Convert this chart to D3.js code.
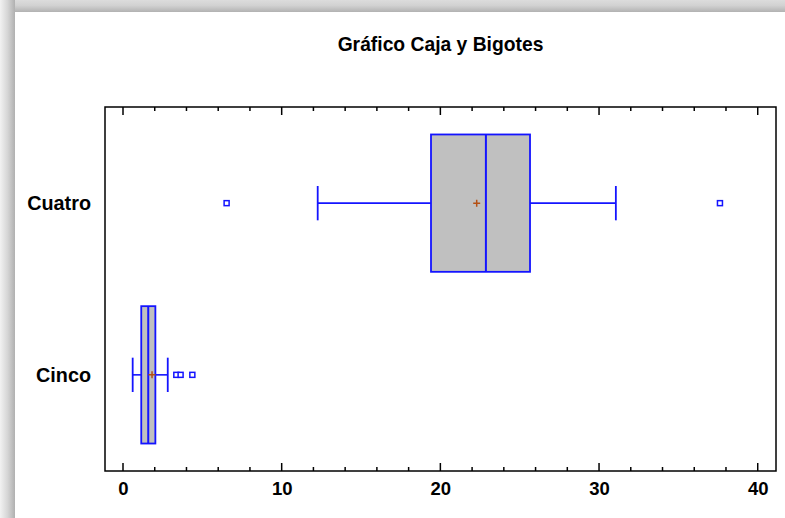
<!DOCTYPE html>
<html>
<head>
<meta charset="utf-8">
<script src="https://cdn.jsdelivr.net/npm/d3@7"></script>
<style>
  html, body { margin: 0; padding: 0; background: #fff; }
  svg { display: block; font-family: Arial, "Liberation Sans", sans-serif; }
</style>
</head>
<body>
<svg id="chart" width="785" height="518"></svg>
<script>
// Groups shown top to bottom
const categories = ["Cuatro", "Cinco"];
// Five-number summaries, mean and outliers per group
const q1Values = [19.41, 1.15];
const medianValues = [22.87, 1.59];
const q3Values = [25.65, 2.04];
const whiskerLow = [12.27, 0.61];
const whiskerHigh = [31.06, 2.82];
const meanValues = [22.29, 1.83];
const outlierValues = [[6.53, 37.62], [3.36, 3.63, 4.37]];
const xTicks = [0, 10, 20, 30, 40];
const xMinorTicks = d3.range(0, 41, 2);
const titleText = "Gráfico Caja y Bigotes";

const W = 785, H = 518;
const svg = d3.select("#chart");
const defs = svg.append("defs");

// Window-style gray shadow along the top and left edges
const gTop = defs.append("linearGradient").attr("id", "shTop").attr("x1", 0).attr("y1", 0).attr("x2", 0).attr("y2", 1);
gTop.append("stop").attr("offset", "0%").attr("stop-color", "#dcdcdc");
gTop.append("stop").attr("offset", "45%").attr("stop-color", "#d2d2d2");
gTop.append("stop").attr("offset", "100%").attr("stop-color", "#b2b2b2");
const gLeft = defs.append("linearGradient").attr("id", "shLeft").attr("x1", 0).attr("y1", 0).attr("x2", 1).attr("y2", 0);
gLeft.append("stop").attr("offset", "0%").attr("stop-color", "#f2f2f2");
gLeft.append("stop").attr("offset", "50%").attr("stop-color", "#d6d6d6");
gLeft.append("stop").attr("offset", "100%").attr("stop-color", "#b0b0b0");

svg.append("rect").attr("x", 0).attr("y", 0).attr("width", W).attr("height", H).attr("fill", "#fff");
svg.append("rect").attr("x", 0).attr("y", 0).attr("width", W).attr("height", 12).attr("fill", "url(#shTop)");
svg.append("rect").attr("x", 0).attr("y", 0).attr("width", 15).attr("height", H).attr("fill", "url(#shLeft)");

const plot = { left: 105, top: 107, right: 776, bottom: 471 };

// 0 sits at x=123 and 40 at x=757.7
const pxPerUnit = 15.868;
const x = d3.scaleLinear()
  .domain([(plot.left - 123) / pxPerUnit, (plot.right - 123) / pxPerUnit])
  .range([plot.left, plot.right]);

const y = d3.scaleBand().domain(categories).range([plot.top, plot.bottom])
  .paddingInner(0.2).paddingOuter(0.16);

// Title
svg.append("text")
  .attr("x", (plot.left + plot.right) / 2)
  .attr("y", 51)
  .attr("text-anchor", "middle")
  .attr("font-size", 19.3)
  .attr("font-weight", "bold")
  .attr("fill", "#000")
  .text(titleText);

// Bottom axis labels
const axisBottom = d3.axisBottom(x).tickValues(xTicks).tickSize(0).tickPadding(0).tickFormat(d3.format("d"));
const gx = svg.append("g").attr("transform", `translate(0,${plot.bottom})`).call(axisBottom);
gx.select(".domain").remove();
gx.selectAll("text").attr("y", 24).attr("dy", 0).attr("font-size", 18.5).attr("font-weight", "bold").attr("fill", "#000").attr("font-family", "Arial, 'Liberation Sans', sans-serif");

// Major and minor ticks pointing inward on bottom and top edges
const tickG = svg.append("g").attr("stroke", "#000").attr("stroke-width", 1.5);
xMinorTicks.forEach(v => {
  const len = v % 10 === 0 ? 8 : 4;
  tickG.append("line").attr("x1", x(v)).attr("x2", x(v)).attr("y1", plot.bottom).attr("y2", plot.bottom - len);
  tickG.append("line").attr("x1", x(v)).attr("x2", x(v)).attr("y1", plot.top).attr("y2", plot.top + len);
});

// Category labels
const axisLeft = d3.axisLeft(y).tickSize(0).tickPadding(14);
const gy = svg.append("g").attr("transform", `translate(${plot.left},0)`).call(axisLeft);
gy.select(".domain").remove();
gy.selectAll("text").attr("font-size", 19.8).attr("font-weight", "bold").attr("fill", "#000").attr("dy", "0.36em").attr("font-family", "Arial, 'Liberation Sans', sans-serif");

// Plot frame
svg.append("rect")
  .attr("x", plot.left).attr("y", plot.top)
  .attr("width", plot.right - plot.left).attr("height", plot.bottom - plot.top)
  .attr("fill", "none").attr("stroke", "#000").attr("stroke-width", 1.5);

const blue = "#1414ff";
const boxes = svg.append("g");
categories.forEach((c, i) => {
  const y0 = y(c), bh = y.bandwidth(), yc = y0 + bh / 2;
  const capH = bh * 0.25;
  const g = boxes.append("g");
  // whiskers
  g.append("line").attr("x1", x(whiskerLow[i])).attr("x2", x(q1Values[i])).attr("y1", yc).attr("y2", yc).attr("stroke", blue).attr("stroke-width", 1.6);
  g.append("line").attr("x1", x(q3Values[i])).attr("x2", x(whiskerHigh[i])).attr("y1", yc).attr("y2", yc).attr("stroke", blue).attr("stroke-width", 1.6);
  [whiskerLow[i], whiskerHigh[i]].forEach(v => {
    g.append("line").attr("x1", x(v)).attr("x2", x(v)).attr("y1", yc - capH / 2).attr("y2", yc + capH / 2).attr("stroke", blue).attr("stroke-width", 1.8);
  });
  // box
  g.append("rect").attr("x", x(q1Values[i])).attr("y", y0)
    .attr("width", x(q3Values[i]) - x(q1Values[i])).attr("height", bh)
    .attr("fill", "#c0c0c0").attr("stroke", blue).attr("stroke-width", 1.8);
  // median
  g.append("line").attr("x1", x(medianValues[i])).attr("x2", x(medianValues[i])).attr("y1", y0).attr("y2", y0 + bh).attr("stroke", blue).attr("stroke-width", 2);
  // mean marker
  const mx = x(meanValues[i]);
  g.append("path").attr("d", `M${mx - 3.5},${yc}H${mx + 3.5}M${mx},${yc - 3.5}V${yc + 3.5}`).attr("stroke", "#b45014").attr("stroke-width", 1.5).attr("fill", "none");
  // outliers
  outlierValues[i].forEach(v => {
    g.append("rect").attr("x", x(v) - 2.5).attr("y", yc - 2.5).attr("width", 5).attr("height", 5)
      .attr("fill", "#fff").attr("stroke", blue).attr("stroke-width", 1.5);
  });
});
</script>
</body>
</html>
